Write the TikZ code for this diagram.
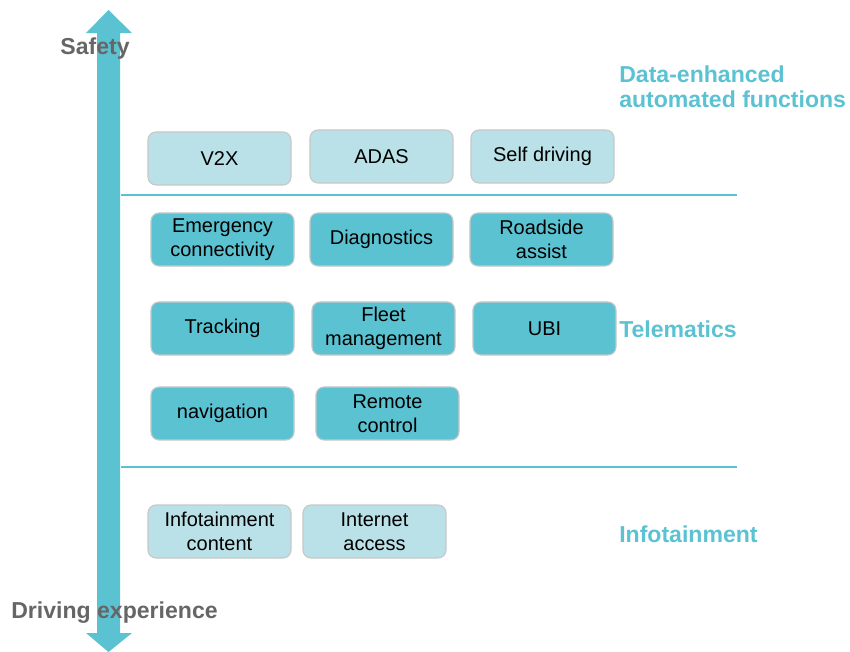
\documentclass[tikz,border=0pt]{standalone}
\usepackage{fontspec}
\setmainfont{Liberation Sans}
\definecolor{tealdark}{HTML}{5BC2D1}
\definecolor{teallight}{HTML}{B9E1E7}
\definecolor{boxline}{HTML}{C8C8C8}
\definecolor{axisgrey}{HTML}{666666}

\begin{document}
\begin{tikzpicture}[x=0.025cm,y=-0.025cm]
    \tikzstyle{item}=[rounded corners=8*0.025cm,draw=boxline,line width=0.8pt,
        minimum width=3.575cm,minimum height=1.325cm,inner sep=0pt,align=center,
        font=\fontsize{14.2}{17}\selectfont]
    \tikzstyle{light}=[item,fill=teallight]
    \tikzstyle{dark}=[item,fill=tealdark]
    \tikzstyle{layer}=[anchor=west,inner sep=0pt,align=left,text=tealdark,
        font=\fontsize{16.4}{17.5}\selectfont\bfseries]
    \tikzstyle{axislabel}=[inner sep=0pt,text=axisgrey,font=\fontsize{16.4}{19}\selectfont\bfseries]
    \tikzstyle{divider}=[draw=tealdark,line width=1.5pt]

    \useasboundingbox (0,0) rectangle (850,652);

    % double arrow along the left side
    \fill[tealdark] (108.5,10) -- (132,33) -- (120,33) -- (120,633) -- (132,633)
        -- (108.5,652) -- (86,633) -- (97,633) -- (97,33) -- (86,33) -- cycle;

    \node[axislabel] (safety) at (95,49) {Safety};
    \node[axislabel] (driving) at (114.5,613) {Driving experience};

    % layer dividers
    \coordinate (top-l) at (121,195);
    \coordinate (top-r) at (737,195);
    \coordinate (bot-l) at (121,467);
    \coordinate (bot-r) at (737,467);
    \draw[divider] (top-l) -- (top-r);
    \draw[divider] (bot-l) -- (bot-r);

    % automated functions
    \foreach \name/\x/\y/\txt in {v2x/219.5/158.5/V2X, adas/381.5/156.5/ADAS,
            self/542.5/156.5/Self driving}
        \node[light] (\name) at (\x,\y) {\txt};

    % telematics
    \foreach \name/\x/\y/\txt in {emergency/222.5/239.5/Emergency\\connectivity,
            diag/381.5/239.5/Diagnostics, roadside/541.5/239.5/Roadside\\assist,
            tracking/222.5/328.5/Tracking, fleet/383.5/328.5/Fleet\\management,
            ubi/544.5/328.5/UBI, nav/222.5/413.5/navigation,
            remote/387.5/413.5/Remote\\control}
        \node[dark] (\name) at (\x,\y) {\txt};

    % infotainment
    \foreach \name/\x/\y/\txt in {content/219.5/531.5/Infotainment\\content,
            internet/374.5/531.5/Internet\\access}
        \node[light] (\name) at (\x,\y) {\txt};

    \node[layer] (auto) at (619,87) {Data-enhanced\\automated functions};
    \node[layer] (telematics) at (619,329) {Telematics};
    \node[layer] (infotainment) at (619,534) {Infotainment};
\end{tikzpicture}
\end{document}
